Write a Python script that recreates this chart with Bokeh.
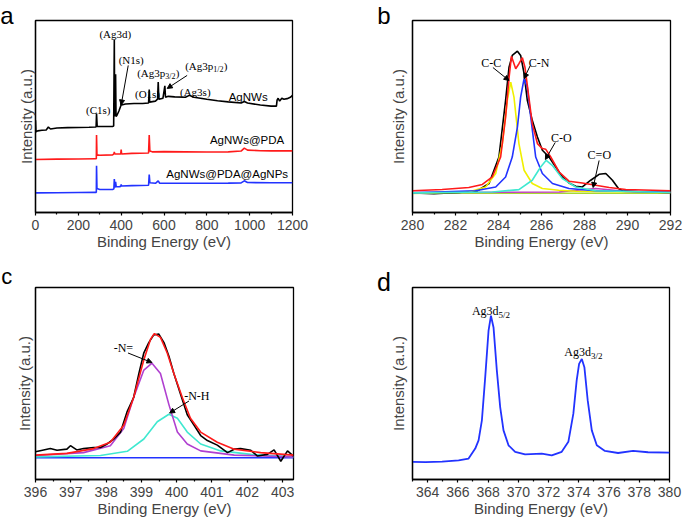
from bokeh.plotting import figure
from bokeh.models import Range1d, FixedTicker, Label, Arrow, NormalHead
from bokeh.layouts import column, row
from bokeh.embed import file_html
from bokeh.resources import INLINE

SANS = "Liberation Sans"
SERIF = "Liberation Serif"

# ---------------- data: panel a (survey) ----------------
a_tick = [0, 200, 400, 600, 800, 1000, 1200]
a_minor = [100, 300, 500, 700, 900, 1100]
a_black_x = [0, 2, 5, 10, 30, 50, 60, 70, 100, 150, 200, 250, 280, 283, 285, 288, 320, 360, 365,
             368, 369.5, 371, 374, 376, 380, 390, 398, 400, 402, 420, 460, 500, 528, 531, 533,
             560, 570, 573, 576, 595, 604, 607, 620, 650, 700, 718, 740, 800, 850, 900, 960,
             975, 990, 1050, 1100, 1125, 1128, 1133, 1140, 1150, 1160, 1175, 1190, 1200]
a_black_y = [48, 42, 42.3, 42.5, 42.8, 43, 44.5, 43.5, 44, 44.2, 44.3, 44.4, 44.5, 44.5, 51.5, 44.8,
             44.8, 44.8, 45, 90, 52, 50, 72, 50, 50.5, 53, 55.5, 57, 56, 56.5, 56.8, 56.8, 57,
             64, 57.5, 58, 59, 68, 59, 59.5, 66, 60, 60.5, 60.2, 60, 61, 60, 59, 58.2, 57.6, 57,
             57.8, 57, 56, 55.4, 55.4, 58.5, 59.5, 58, 59.5, 59, 59.3, 60, 61]
a_red_x = [0, 100, 200, 280, 284, 285, 287, 300, 360, 366, 368, 370, 398, 400, 402, 450, 528,
           531, 534, 545, 600, 700, 800, 900, 960, 975, 990, 1050, 1100, 1200]
a_red_y = [27.6, 27.8, 27.9, 28, 28, 40.3, 30, 29.8, 30, 30.5, 31.5, 30.5, 30.5, 32.8, 30.5, 30.8,
           31, 40.3, 32, 31.6, 31.7, 31.6, 31.5, 31.6, 32, 33.5, 32.5, 32.2, 32.1, 32.1]
a_blue_x = [0, 100, 200, 280, 284, 285, 287, 300, 360, 366, 368, 371, 374, 377, 390, 398, 400,
            402, 450, 528, 531, 534, 560, 573, 580, 700, 900, 960, 975, 990, 1100, 1200]
a_blue_y = [10.2, 10.3, 10.4, 10.5, 10.5, 24.3, 12.5, 12, 12, 12.3, 17.4, 13, 16, 13.4, 13.4,
            13.6, 14.6, 13.8, 14, 14.2, 19.8, 15.5, 15.2, 16.5, 15.2, 15.2, 15.3, 15.4, 16.5,
            15.6, 15.5, 15.5]

# ---------------- data: panel b (C1s) ----------------
b_tick = [280, 282, 284, 286, 288, 290, 292]
b_minor = [281, 283, 285, 287, 289, 291]
b_black_x = [280.0, 281.0, 282.16, 283.0, 283.56, 284.02, 284.33, 284.49, 284.64, 284.88, 285.03,
             285.19, 285.34, 285.57, 285.81, 286.04, 286.35, 286.66, 286.97, 287.28, 287.59,
             287.9, 288.29, 288.68, 288.99, 289.3, 289.58, 289.77, 290.7, 292.0]
b_black_y = [10.2, 9.8, 10.4, 11.2, 15.1, 28.9, 58.4, 75.7, 81.8, 84, 81.8, 72.3, 58.4, 48, 39.3,
             32.4, 28.9, 23.7, 18.5, 15.4, 13.7, 13.3, 16.8, 19.9, 20.3, 16.8, 12.5, 11.3, 10.7, 10.5]
b_red_x = [280, 281.38, 282.62, 283.25, 283.71, 284.1, 284.33, 284.49, 284.6, 284.67, 284.8,
           284.95, 285.11, 285.23, 285.39, 285.57, 285.81, 286.04, 286.2, 286.43, 286.82, 287.28,
           287.9, 288.52, 289.15, 289.92, 292]
b_red_y = [11.3, 12, 13, 14.6, 18.5, 28.9, 49.7, 70.1, 81.3, 79.2, 74.9, 77.5, 80.6, 75.7, 61.9,
           46.3, 35.9, 33.3, 32.9, 28.9, 21.1, 16.3, 15.4, 14.2, 13, 12, 11.3]
b_yellow_x = [280, 282.62, 283.4, 283.87, 284.18, 284.41, 284.57, 284.72, 284.95, 285.19, 285.57,
              286.04, 286.8, 287.59, 292]
b_yellow_y = [9.9, 10.7, 13.3, 20.3, 35.9, 58.4, 67.9, 60.1, 35.9, 22, 15.1, 12.5, 11.6, 11.1, 10.6]
b_blue_x = [280, 282.93, 283.87, 284.33, 284.64, 284.88, 285.03, 285.19, 285.34, 285.5, 285.73,
            286.04, 286.51, 287.28, 288.52, 292]
b_blue_y = [10.2, 11.3, 13.3, 18.5, 28.9, 44.5, 60.1, 69.7, 65.3, 49.7, 28.9, 20.3, 15.1, 12.5,
            11.3, 10.6]
b_cyan_x = [280, 283.71, 284.95, 285.57, 285.96, 286.22, 286.5, 286.97, 287.59, 288.52, 292]
b_cyan_y = [10.2, 10.7, 11.9, 16.8, 23.7, 27.2, 24.6, 17.7, 13.3, 11.3, 10.4]
b_mag_x = [280, 286.82, 287.9, 288.52, 289.15, 289.92, 292]
b_mag_y = [10.4, 10.7, 11.9, 12.5, 11.9, 10.9, 10.4]
b_base_x = [280, 292]
b_base_y = [10.0, 10.0]

# ---------------- data: panel c (N1s) ----------------
c_tick = [396, 397, 398, 399, 400, 401, 402, 403]
c_minor = [396.5, 397.5, 398.5, 399.5, 400.5, 401.5, 402.5]
c_black_x = [396.0, 396.23, 396.42, 396.61, 396.89, 396.99, 397.17, 397.36, 397.65, 397.84,
             398.03, 398.22, 398.41, 398.6, 398.78, 398.93, 399.07, 399.21, 399.35, 399.49,
             399.64, 399.78, 399.92, 400.11, 400.3, 400.49, 400.68, 400.87, 401.15, 401.44,
             401.63, 401.81, 402.1, 402.29, 402.57, 402.76, 402.95, 403.14, 403.31]
c_black_y = [14.5, 15.4, 16.1, 15.2, 15.8, 17.6, 15.4, 16.1, 16.7, 16.7, 18.5, 21.1, 24.7, 35.5,
             42.7, 55.2, 66, 71.3, 75.3, 75.8, 71.3, 64.2, 55.2, 44.4, 33.7, 28.3, 22.9, 20.3,
             17.9, 14, 15.8, 16.1, 15.2, 12.2, 13.1, 15.4, 9.5, 14.9, 12.2]
c_red_x = [396, 396.89, 397.65, 398.12, 398.5, 398.78, 399.07, 399.26, 399.37, 399.54, 399.73,
           399.92, 400.16, 400.39, 400.68, 401.15, 401.63, 402.38, 403.31]
c_red_y = [12.7, 13.6, 16.1, 19.4, 28.3, 42.7, 62.4, 73.1, 76, 74, 66, 55.2, 42.7, 31.9, 24.7,
           19.4, 15.8, 14, 12.7]
c_purple_x = [396, 397.36, 398.12, 398.5, 398.78, 399.07, 399.3, 399.54, 399.78, 400.02, 400.3,
              400.68, 401.63, 403.31]
c_purple_y = [12.5, 14, 17.6, 26.5, 42.7, 57, 60.6, 55.2, 39, 24.7, 18.5, 14.9, 12.7, 11.8]
c_cyan_x = [396, 397.84, 398.6, 399.07, 399.45, 399.78, 400.02, 400.3, 400.68, 401.25, 402.1, 403.31]
c_cyan_y = [11.8, 12.5, 14.7, 21.1, 30.1, 34, 31.9, 24.7, 18.5, 14.9, 13.1, 11.8]
c_base_x = [396, 403.31]
c_base_y = [11.3, 11.3]

# ---------------- data: panel d (Ag3d) ----------------
d_tick = [364, 366, 368, 370, 372, 374, 376, 378, 380]
d_minor = [363, 365, 367, 369, 371, 373, 375, 377, 379]
d_x = [363.0, 363.86, 364.96, 366.05, 366.71, 367.15, 367.37, 367.59, 367.81, 368.03, 368.19,
       368.36, 368.58, 368.8, 369.02, 369.35, 369.79, 370.45, 371.55, 372.21, 372.87, 373.31,
       373.64, 373.86, 374.02, 374.2, 374.37, 374.59, 374.86, 375.19, 375.73, 376.6, 377.59,
       378.58, 380.0]
d_y = [9.2, 9.0, 9.3, 10, 10.9, 16.1, 20.4, 30.8, 53.3, 77.5, 85.3, 79.2, 56.7, 37.7, 25.6,
       17.8, 14.4, 13.1, 13.5, 12.6, 14.4, 19.6, 34.3, 51.6, 60.2, 62.8, 58.5, 41.2, 25.6, 17.8,
       14.9, 13.8, 14.9, 14.2, 14]

RED = "#ff1a1a"
BLUE = "#2233ff"


def make_fig(xr, ticks, minor, bl, br, bt, bb, h, ylab_standoff=6):
    p = figure(width=342, height=h, x_range=Range1d(*xr), y_range=Range1d(0, 100),
               output_backend="svg", toolbar_location=None,
               min_border_left=bl, min_border_right=br, min_border_top=bt, min_border_bottom=bb)
    p.grid.visible = False
    p.outline_line_color = "black"
    p.outline_line_width = 1.3
    p.outline_line_alpha = 1.0
    xa = p.xaxis[0]
    xa.ticker = FixedTicker(ticks=ticks, minor_ticks=minor)
    xa.axis_label = "Binding Energy (eV)"
    xa.axis_label_text_font = SANS
    xa.axis_label_text_font_size = "15px"
    xa.axis_label_text_font_style = "normal"
    xa.axis_label_standoff = 0
    xa.major_label_text_font = SANS
    xa.major_label_text_font_size = "14px"
    xa.major_label_standoff = 4
    xa.major_tick_in = 0
    xa.major_tick_out = 3
    xa.minor_tick_in = 0
    xa.minor_tick_out = 2
    xa.axis_line_width = 1.3
    xa.major_tick_line_width = 1.2
    xa.minor_tick_line_width = 1.2
    ya = p.yaxis[0]
    ya.ticker = FixedTicker(ticks=[])
    ya.axis_label = "Intensity (a.u.)"
    ya.axis_label_text_font = SANS
    ya.axis_label_text_font_size = "15px"
    ya.axis_label_text_font_style = "normal"
    ya.axis_label_standoff = ylab_standoff
    ya.major_label_standoff = 0
    ya.major_tick_out = 0
    ya.axis_line_width = 1.3
    return p


def txt(p, x, y, t, size="11px", font=SERIF, align="center", xo=0, yo=0):
    p.add_layout(Label(x=x, y=y, text=t, text_font=font, text_font_size=size,
                       text_align=align, text_baseline="middle", x_offset=xo, y_offset=yo,
                       text_color="black"))


def arrow(p, x0, y0, x1, y1):
    p.add_layout(Arrow(end=NormalHead(size=5, fill_color="black", line_color="black"),
                       x_start=x0, y_start=y0, x_end=x1, y_end=y1,
                       line_color="black", line_width=1))


def letter(p, t, x, y, size):
    p.add_layout(Label(x=x, y=y, text=t, text_font=SANS, text_font_size=size,
                       text_baseline="alphabetic", text_align="left", text_color="black"),
                 "left")


# panel a
pa = make_fig((0, 1200), a_tick, a_minor, 35, 50, 20, 48, 260, ylab_standoff=1)
pa.line(a_black_x, a_black_y, color="black", line_width=1.6)
pa.line(a_red_x, a_red_y, color=RED, line_width=1.6)
pa.line(a_blue_x, a_blue_y, color=BLUE, line_width=1.6)
txt(pa, 372.6, 93.2, "(Ag3d)")
txt(pa, 447, 79.2, "(N1s)")
arrow(pa, 433, 76.6, 400, 56)
txt(pa, 474.9, 72.6, "(Ag3p", align="left")
txt(pa, 474.9, 72.6, "3/2", size="8px", align="left", xo=28, yo=-3)
txt(pa, 474.9, 72.6, ")", align="left", xo=38.5)
txt(pa, 698.9, 76.2, "(Ag3p", align="left")
txt(pa, 698.9, 76.2, "1/2", size="8px", align="left", xo=28, yo=-3)
txt(pa, 698.9, 76.2, ")", align="left", xo=38.5)
arrow(pa, 708, 71.4, 615, 64.6)
txt(pa, 523, 61.5, "(O1s)")
txt(pa, 293, 53.6, "(C1s)")
txt(pa, 746, 63, "(Ag3s)")
txt(pa, 993, 60.4, "AgNWs", size="11.5px", font=SANS)
txt(pa, 988, 38, "AgNWs@PDA", size="11.5px", font=SANS)
txt(pa, 895, 19.8, "AgNWs@PDA@AgNPs", size="11.5px", font=SANS)
letter(pa, "a", -164.8, 102.6, "24px")

# panel b
pb = make_fig((280, 292), b_tick, b_minor, 70, 14, 20, 48, 260)
pb.line(b_base_x, b_base_y, color="#a8d830", line_width=1.5)
pb.line(b_mag_x, b_mag_y, color="#c040c0", line_width=1.5)
pb.line(b_black_x, b_black_y, color="black", line_width=1.6)
pb.line(b_yellow_x, b_yellow_y, color="#f0f000", line_width=1.6)
pb.line(b_blue_x, b_blue_y, color="#2233ff", line_width=1.6)
pb.line(b_cyan_x, b_cyan_y, color="#40e8d0", line_width=1.6)
pb.line(b_red_x, b_red_y, color=RED, line_width=1.6)
txt(pb, 283.66, 78.1, "C-C", size="12px")
arrow(pb, 283.74, 75.5, 284.49, 68.75)
txt(pb, 285.89, 78.1, "C-N", size="12px")
arrow(pb, 285.48, 76.6, 285.19, 69.8)
txt(pb, 286.92, 39, "C-O", size="12px")
arrow(pb, 286.64, 36.5, 286.18, 27.6)
txt(pb, 288.69, 29.7, "C=O", size="12px")
arrow(pb, 288.68, 27.1, 288.4, 13)
letter(pb, "b", 278.36, 102.6, "24px")

# panel c
pc = make_fig((396, 403.31), c_tick, c_minor, 35, 49, 27, 41, 260, ylab_standoff=3)
pc.line(c_base_x, c_base_y, color=BLUE, line_width=1.6)
pc.line(c_cyan_x, c_cyan_y, color="#40e8d0", line_width=1.6)
pc.line(c_purple_x, c_purple_y, color="#b040d0", line_width=1.6)
pc.line(c_black_x, c_black_y, color="black", line_width=1.6)
pc.line(c_red_x, c_red_y, color=RED, line_width=1.6)
txt(pc, 398.49, 68.6, "-N=", size="12px")
arrow(pc, 398.62, 65.9, 399.3, 60.9)
txt(pc, 400.57, 43.5, "-N-H", size="12px")
arrow(pc, 400.35, 40.9, 399.8, 34.6)
letter(pc, "c", 395.03, 105.5, "22px")

# panel d
pd = make_fig((363, 380), d_tick, d_minor, 70, 15, 27, 41, 260)
pd.line(d_x, d_y, color=BLUE, line_width=1.8)
txt(pd, 366.93, 87.9, "Ag3d", size="12px", align="left")
txt(pd, 366.93, 87.9, "5/2", size="9px", align="left", xo=26.7, yo=-4)
txt(pd, 373.04, 66.3, "Ag3d", size="12px", align="left")
txt(pd, 373.04, 66.3, "3/2", size="9px", align="left", xo=26.7, yo=-4)
letter(pd, "d", 360.66, 103.1, "25px")

layout = column(row(pa, pb), row(pc, pd))
open("out.html", "w").write(file_html(layout, INLINE))
